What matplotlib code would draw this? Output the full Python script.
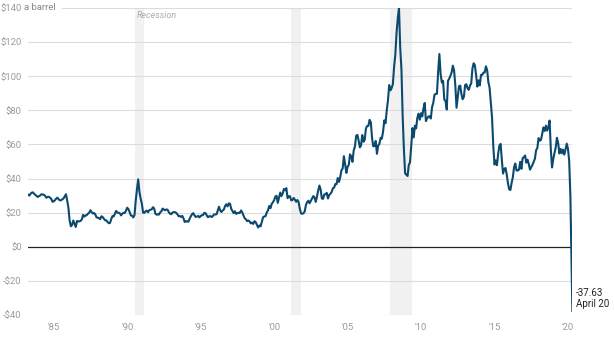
import numpy as np
import matplotlib.pyplot as plt

# WTI crude, monthly (dollars a barrel), Apr 1983 - Mar 2020, then the Apr 20 2020 close
first_year, first_month = 1983, 4
prices_1980s = [30.6, 30.0, 31.0, 31.7, 31.9, 31.1, 30.4, 29.8, 29.2,
                29.7, 30.1, 30.8, 30.6, 30.5, 29.8, 28.7, 29.3, 29.3, 28.8, 28.1, 26.4,
                26.6, 27.3, 28.2, 28.8, 27.9, 27.2, 27.3, 27.8, 28.3, 29.5, 30.8, 27.2,
                22.9, 15.4, 12.0, 12.8, 15.4, 13.5, 11.6, 15.1, 14.9, 14.9, 15.2, 16.1,
                18.7, 17.7, 18.3, 18.6, 19.4, 20.0, 21.4, 20.3, 19.5, 19.8, 18.9, 17.2,
                17.1, 16.7, 16.2, 17.9, 17.4, 16.5, 15.5, 15.5, 14.5, 13.8, 14.0, 16.3,
                18.0, 17.8, 19.4, 21.0, 20.0, 20.0, 19.6, 18.4, 19.4, 19.9, 19.8, 21.1]
prices_1990s = [22.9, 22.1, 20.4, 18.4, 18.2, 17.2, 18.6, 27.2, 33.7, 39.5, 32.3, 28.3,
                25.2, 20.0, 19.9, 20.8, 21.2, 20.2, 21.4, 21.7, 21.9, 23.2, 22.5, 19.5,
                18.8, 19.0, 18.9, 20.2, 20.9, 22.4, 21.8, 21.4, 21.9, 21.7, 20.3, 19.4,
                19.1, 20.1, 20.3, 20.3, 19.9, 19.1, 17.9, 18.0, 17.5, 18.1, 16.7, 14.5,
                15.0, 14.8, 14.7, 16.4, 17.9, 19.1, 19.7, 18.4, 17.5, 17.7, 18.1, 17.2,
                18.0, 18.5, 18.6, 19.9, 19.7, 18.4, 17.3, 17.9, 18.0, 17.4, 18.0, 19.0,
                18.9, 19.1, 21.3, 23.5, 21.2, 20.4, 21.3, 21.9, 23.9, 24.9, 23.7, 25.4,
                25.2, 22.2, 21.0, 19.7, 20.8, 19.3, 19.7, 19.9, 19.8, 21.3, 20.2, 18.3,
                16.7, 16.1, 15.0, 15.4, 14.9, 13.7, 14.2, 13.4, 15.0, 14.4, 12.9, 11.3,
                12.5, 12.0, 14.7, 17.3, 17.8, 17.9, 20.1, 21.3, 23.9, 22.6, 25.0, 26.1]
prices_2000s = [27.2, 29.4, 29.9, 25.7, 28.8, 31.8, 29.7, 31.2, 33.9, 33.1, 34.4, 28.5,
                29.6, 29.6, 27.2, 27.4, 28.6, 27.6, 26.4, 27.4, 26.2, 22.2, 19.6, 19.3,
                19.7, 20.7, 24.5, 26.2, 27.0, 25.5, 26.9, 28.4, 29.7, 28.9, 26.3, 29.4,
                32.9, 35.9, 33.6, 28.3, 28.1, 30.7, 30.8, 31.6, 28.3, 30.3, 31.1, 32.1,
                34.3, 34.7, 36.7, 36.7, 40.3, 38.0, 40.7, 44.9, 45.9, 53.1, 48.5, 43.3,
                46.8, 48.1, 54.2, 53.0, 49.8, 56.4, 58.7, 65.0, 65.6, 62.4, 58.3, 59.4,
                65.5, 61.6, 62.7, 69.4, 70.8, 70.9, 74.4, 73.0, 63.8, 58.9, 59.1, 62.0,
                54.5, 59.3, 60.4, 63.9, 63.4, 67.5, 74.1, 72.4, 79.9, 85.8, 94.8, 91.7,
                93.0, 95.4, 105.5, 112.6, 125.4, 133.9, 140.0, 116.7, 104.1, 76.6, 57.3, 43.1,
                42.2, 41.5, 47.9, 49.6, 59.0, 69.6, 64.1, 71.0, 69.4, 75.7, 78.0, 74.5]
prices_2010s = [78.3, 76.4, 81.2, 84.3, 73.7, 75.3, 76.3, 76.6, 75.2, 81.9, 84.3, 89.2,
                89.6, 89.7, 102.9, 113.0, 101.3, 96.3, 97.3, 86.3, 85.5, 80.5, 97.2, 98.6,
                100.2, 102.2, 106.2, 103.3, 94.7, 81.5, 87.9, 94.1, 94.5, 89.5, 86.5, 87.9,
                94.8, 95.3, 92.9, 92.0, 94.5, 95.8, 104.6, 107.6, 106.3, 100.5, 93.9, 97.6,
                94.6, 100.8, 100.8, 102.1, 102.2, 105.8, 103.6, 96.5, 93.2, 84.4, 75.8, 59.3,
                48.2, 50.6, 47.8, 54.5, 59.3, 60.3, 50.9, 42.9, 45.5, 46.2, 42.4, 37.2,
                33.7, 33.3, 37.5, 40.8, 46.7, 48.8, 44.7, 44.7, 45.2, 49.8, 45.7, 52.0,
                52.5, 53.5, 49.3, 51.1, 48.5, 45.2, 46.6, 48.0, 49.8, 51.6, 56.6, 57.9,
                63.7, 62.2, 62.7, 66.3, 70.0, 67.9, 71.0, 68.1, 70.2, 74.0, 57.0, 46.5,
                51.4, 55.0, 58.2, 63.9, 60.8, 54.7, 57.4, 54.8, 57.0, 54.0, 57.0, 60.5]
prices_2020 = [57.5, 50.5, 29.2]
apr20_date = 2020 + 110 / 366
apr20_price = -37.63

recessions = [(1990 + 6 / 12, 1991 + 2 / 12), (2001 + 2 / 12, 2001 + 10 / 12), (2007 + 11 / 12, 2009 + 5 / 12)]
ytick_vals = [-40, -20, 0, 20, 40, 60, 80, 100, 120, 140]
xtick_years = [1985, 1990, 1995, 2000, 2005, 2010, 2015, 2020]

monthly = prices_1980s + prices_1990s + prices_2000s + prices_2010s + prices_2020
t = first_year + (first_month - 1) / 12 + np.arange(len(monthly)) / 12
t = np.append(t, apr20_date)
price = np.append(monthly, apr20_price)

plt.rcParams['font.family'] = ['Roboto', 'DejaVu Sans']
gray = '#9a9a9a'

fig = plt.figure(figsize=(6.14, 3.37), dpi=100)
ax = fig.add_axes([0.0456, 0.0653, 0.8866, 0.911])
ax.set_xlim(1983.25, apr20_date)
ax.set_ylim(-40, 140)

for a, b in recessions:
    ax.axvspan(a, b, color='#f1f1f1', lw=0, zorder=0)
ax.text(1990.65, 135.5, 'Recession', fontsize=6.5, style='italic', color='#aaaaaa', va='center')

for v in ytick_vals:
    if v == 0:
        ax.axhline(0, color='#222222', lw=0.9, zorder=1)
    elif v == 140:
        ax.axhline(v, xmin=0.0625, color='#dcdcdc', lw=0.8, zorder=1)
    else:
        ax.axhline(v, color='#dcdcdc', lw=0.8, zorder=1)

ax.plot(t, price, color='#0b4a6e', lw=1.5, zorder=3, solid_joinstyle='round')

ax.set_yticks(ytick_vals)
ax.set_yticklabels([('-$%d' % -v) if v < 0 else ('$%d' % v) for v in ytick_vals])
ax.set_xticks(xtick_years)
ax.set_xticklabels(["'%02d" % (y % 100) for y in xtick_years])
ax.tick_params(length=0, labelsize=6.8, colors=gray)
ax.tick_params(axis='y', pad=4.5)
ax.tick_params(axis='x', pad=6)
for s in ax.spines.values():
    s.set_visible(False)

ax.text(1983.0, 140, 'a barrel', fontsize=6.8, color='#888888', va='center', ha='left')
ax.annotate('-37.63\nApril 20', xy=(apr20_date, -30.5), xytext=(2.5, 0), textcoords='offset points',
            fontsize=7, color='#222222', va='center', ha='left', linespacing=1.1,
            annotation_clip=False)

fig.savefig('out.png', dpi=100)
